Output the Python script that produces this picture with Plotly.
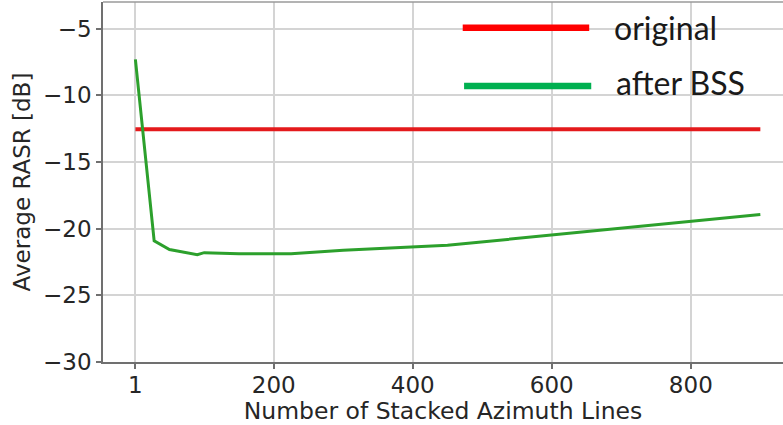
import plotly.graph_objects as go

# Number of stacked azimuth lines and the average RASR after BSS
stack_lines = [1, 28, 50, 90, 100, 150, 225, 300, 450, 900]
rasr_bss = [-7.3, -20.92, -21.56, -21.95, -21.8, -21.88, -21.88, -21.62, -21.25, -18.93]

# Original RASR (constant over the stacking range)
orig_x = [1, 900]
orig_rasr = [-12.55, -12.55]

x_ticks = [1, 200, 400, 600, 800]
x_tick_text = ["1", "200", "400", "600", "800"]
y_ticks = [-30, -25, -20, -15, -10, -5]
y_tick_text = ["\u221230", "\u221225", "\u221220", "\u221215", "\u221210", "\u22125"]

legend_names = ["original", "after BSS"]
legend_colors = ["#ff0000", "#00b050"]

fig = go.Figure()
fig.add_trace(go.Scatter(x=orig_x, y=orig_rasr, mode="lines",
                         line=dict(color="#e41a1c", width=4), name=legend_names[0]))
fig.add_trace(go.Scatter(x=stack_lines, y=rasr_bss, mode="lines",
                         line=dict(color="#2ca02c", width=3), name=legend_names[1]))

tick_font = dict(family="DejaVu Sans", size=23, color="#262626")

fig.update_layout(
    width=783, height=425,
    margin=dict(l=103, r=0, t=2, b=63),
    paper_bgcolor="white", plot_bgcolor="white",
    showlegend=False,
    xaxis=dict(range=[-45.6, 932.6], tickvals=x_ticks, ticktext=x_tick_text,
               showgrid=True, gridcolor="#d4d4d4", gridwidth=1.5, zeroline=False,
               showline=True, linecolor="#707070", linewidth=1.5,
               ticks="outside", ticklen=5, tickwidth=1.5, tickcolor="#707070",
               tickfont=tick_font, ticklabelstandoff=-3,
               title=dict(text="Number of Stacked Azimuth Lines",
                          font=dict(family="DejaVu Sans", size=23.5, color="#262626"),
                          standoff=2)),
    yaxis=dict(range=[-30, -3.0], tickvals=y_ticks, ticktext=y_tick_text,
               showgrid=True, gridcolor="#d4d4d4", gridwidth=1.5, zeroline=False,
               showline=True, linecolor="#707070", linewidth=1.5,
               ticks="outside", ticklen=5, tickwidth=1.5, tickcolor="#707070",
               tickfont=tick_font,
               title=dict(text="Average RASR [dB]", font=tick_font, standoff=6)),
)

# top frame line
fig.add_shape(type="line", xref="paper", yref="paper", x0=0, x1=1, y0=1, y1=1,
              line=dict(color="#9a9a9a", width=1.5))

# legend drawn as long key lines with labels
legend_rows = [(0.529, 0.715, 0.9286, 0.9286), (0.531, 0.718, 0.7665, 0.777)]
for (x0, x1, yk, yt), name, col in zip(legend_rows, legend_names, legend_colors):
    fig.add_shape(type="line", xref="paper", yref="paper", x0=x0, x1=x1, y0=yk, y1=yk,
                  line=dict(color=col, width=6.5))
    fig.add_annotation(xref="paper", yref="paper", x=x1 + 0.034, y=yt,
                       xanchor="left", yanchor="middle", showarrow=False,
                       text=name, font=dict(family="Lato", size=32, color="#1a1a1a"))

fig.write_html("out.html")
